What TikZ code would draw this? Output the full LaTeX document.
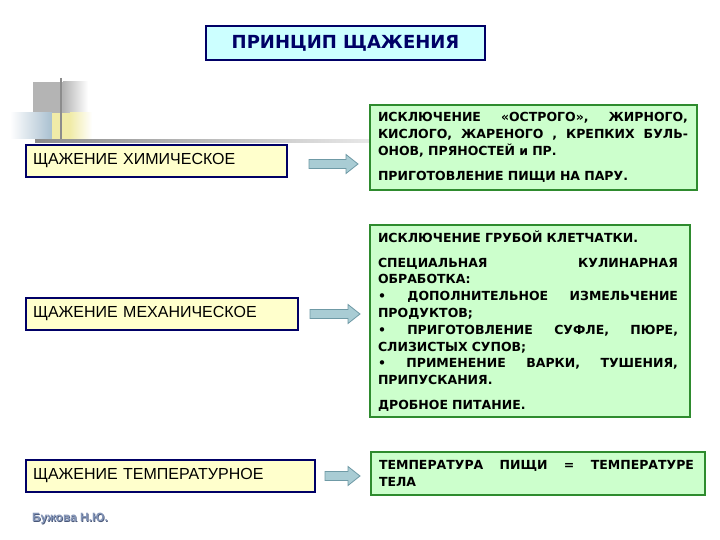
\documentclass[tikz,border=0pt]{standalone}
\usepackage{fontspec}
\setmainfont{Liberation Sans}
\newfontfamily\boldface{DejaVu Sans}
\definecolor{navy}{HTML}{000066}
\definecolor{titlefill}{HTML}{CCFFFF}
\definecolor{leftfill}{HTML}{FFFFCC}
\definecolor{greenfill}{HTML}{CCFFCC}
\definecolor{greenline}{HTML}{2E8B2E}
\definecolor{arrowfill}{HTML}{A9CCD4}
\definecolor{arrowline}{HTML}{6F9AA6}
\definecolor{decogray}{HTML}{B4B4B4}
\definecolor{decoblue}{HTML}{A9C0D0}
\definecolor{decoyellow}{HTML}{F0EBA8}
\definecolor{linegray}{HTML}{8C8C8C}
\definecolor{authorcol}{HTML}{8495B8}
\definecolor{authorshadow}{HTML}{4A5878}
\newcommand\jl[2][310pt]{\leavevmode\hbox to #1{#2}}
\newcommand\js{\hspace{0.3em plus 1fil}}
\begin{document}
\begin{tikzpicture}[x=1pt,y=-1pt,
 titlebox/.style={draw=navy, line width=1.8pt, fill=titlefill, minimum width=279pt, minimum height=34pt, inner sep=0pt, font=\boldface\fontsize{18}{21}\selectfont\bfseries, text=navy},
 leftbox/.style={draw=navy, line width=1.8pt, fill=leftfill, minimum height=32pt, inner xsep=7pt, inner ysep=0pt, align=left, font=\fontsize{16}{19}\selectfont},
 greenbox/.style={draw=greenline, line width=1.6pt, fill=greenfill, inner xsep=8pt, inner ysep=0pt, align=left, font=\boldface\fontsize{12.5}{16.8}\selectfont\bfseries},
 blockarrow/.style={fill=arrowfill, draw=arrowline, line width=0.8pt, line join=miter},
]
\useasboundingbox (0,0) rectangle (720,540);
\fill[white] (0,0) rectangle (720,540);
% decoration
\fill[decogray] (33,82) rectangle (63,113);
\shade[left color=decogray, right color=white] (63,82) rectangle (88,113);
\shade[left color=white, right color=decoblue] (10,113) rectangle (52,139);
\fill[decoyellow] (52,113) rectangle (70,140);
\shade[left color=decoyellow, right color=white] (70,113) rectangle (92,140);
\draw[linegray, line width=2.5pt] (61,78) -- (61,143);
\shade[left color=linegray, right color=linegray!20] (35,139.5) rectangle (370,142.5);
% title
\node[titlebox] (title) at (345.5,43) {ПРИНЦИП ЩАЖЕНИЯ};
% left boxes
\node[leftbox, text width=247pt] (l1) at (156.5,161) {ЩАЖЕНИЕ ХИМИЧЕСКОЕ};
\node[leftbox, text width=258pt] (l2) at (162,314) {ЩАЖЕНИЕ МЕХАНИЧЕСКОЕ};
\node[leftbox, text width=275pt] (l3) at (170.5,476) {ЩАЖЕНИЕ ТЕМПЕРАТУРНОЕ};
% right boxes
\node[greenbox, text width=311pt, minimum height=85pt] (r1) at (533.5,147.5) {%
\jl{ИСКЛЮЧЕНИЕ\js «ОСТРОГО»,\js ЖИРНОГО,}\\
\jl{КИСЛОГО,\js ЖАРЕНОГО\js ,\js КРЕПКИХ\js БУЛЬ-}\\
ОНОВ, ПРЯНОСТЕЙ и ПР.\\[8.2pt]
ПРИГОТОВЛЕНИЕ ПИЩИ НА ПАРУ.};
\node[greenbox, text width=304pt, minimum height=192pt] (r2) at (530,321) {%
ИСКЛЮЧЕНИЕ ГРУБОЙ КЛЕТЧАТКИ.\\[8.2pt]
\jl[300pt]{СПЕЦИАЛЬНАЯ\js КУЛИНАРНАЯ}\\
ОБРАБОТКА:\\
\jl[300pt]{•\js ДОПОЛНИТЕЛЬНОЕ\js ИЗМЕЛЬЧЕНИЕ}\\
ПРОДУКТОВ;\\
\jl[300pt]{•\js ПРИГОТОВЛЕНИЕ\js СУФЛЕ,\js ПЮРЕ,}\\
СЛИЗИСТЫХ СУПОВ;\\
\jl[300pt]{•\js ПРИМЕНЕНИЕ\js ВАРКИ,\js ТУШЕНИЯ,}\\
ПРИПУСКАНИЯ.\\[8.2pt]
ДРОБНОЕ ПИТАНИЕ.};
\node[greenbox, text width=318pt, minimum height=43pt] (r3) at (538,473.5) {%
\jl[315pt]{ТЕМПЕРАТУРА\js ПИЩИ\js =\js ТЕМПЕРАТУРЕ}\\
ТЕЛА};
% block arrows
\coordinate (a1) at (309,164);
\coordinate (a2) at (310,314);
\coordinate (a3) at (325,476);
\filldraw[blockarrow] (a1) ++(0,-4.5) -- ++(37,0) -- ++(0,-5) -- ++(12,9.5) -- ++(-12,9.5) -- ++(0,-5) -- ++(-37,0) -- cycle;
\filldraw[blockarrow] (a2) ++(0,-4.5) -- ++(38,0) -- ++(0,-5) -- ++(12,9.5) -- ++(-12,9.5) -- ++(0,-5) -- ++(-38,0) -- cycle;
\filldraw[blockarrow] (a3) ++(0,-4.5) -- ++(23,0) -- ++(0,-5) -- ++(12,9.5) -- ++(-12,9.5) -- ++(0,-5) -- ++(-23,0) -- cycle;
% author
\node[anchor=west, text=authorshadow, font=\fontsize{12}{14}\selectfont\bfseries, inner sep=0pt] (authorsh) at (32.7,519.7) {Бужова Н.Ю.};
\node[anchor=west, text=authorcol, font=\fontsize{12}{14}\selectfont\bfseries, inner sep=0pt] (author) at (32,519) {Бужова Н.Ю.};
\end{tikzpicture}
\end{document}
